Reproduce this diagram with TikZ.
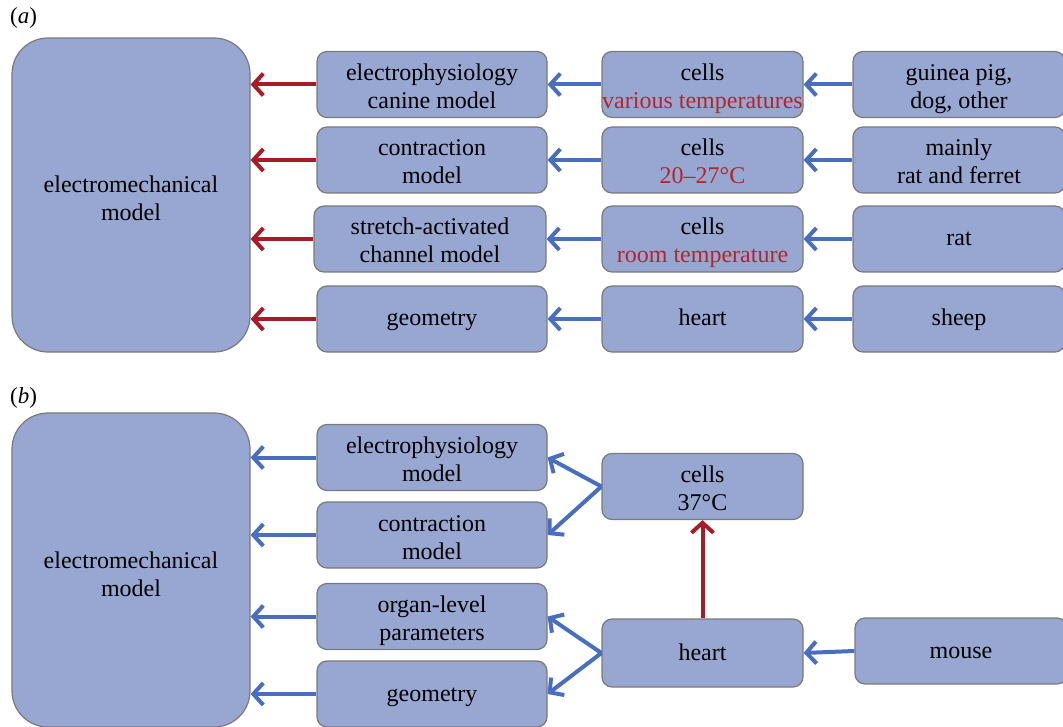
\documentclass[tikz,border=0pt]{standalone}
\usepackage{fontspec}
\setmainfont{Liberation Serif}
\usetikzlibrary{arrows.meta}

\definecolor{boxfill}{HTML}{97A7D1}
\definecolor{boxline}{HTML}{7A7A7A}
\definecolor{arrowblue}{HTML}{4A6EBF}
\definecolor{arrowred}{HTML}{A61C28}
\definecolor{redtext}{HTML}{B3252E}

\tikzset{
    box/.style={draw=boxline, fill=boxfill, line width=1.2pt, rounded corners=10pt,
        align=center, inner sep=0pt, font=\fontsize{24}{28}\selectfont},
    oneline/.style={text height=20pt, text depth=6pt},
    twoline/.style={text height=52pt, text depth=4pt},
    midbox/.style={box, minimum width=230pt, minimum height=66pt},
    cellbox/.style={box, minimum width=201pt, minimum height=66pt},
    srcbox/.style={box, minimum width=212pt, minimum height=66pt},
    bigbox/.style={box, rounded corners=36pt, minimum width=238pt, minimum height=314pt,
        text height=54pt, text depth=2pt},
    panel/.style={anchor=west, inner sep=0pt, font=\fontsize{23}{26}\selectfont},
    bluearrow/.style={draw=arrowblue, line width=4pt, -{Straight Barb[length=10pt,width=22pt]}},
    redarrow/.style={draw=arrowred, line width=4pt, -{Straight Barb[length=10pt,width=22pt]}}
}

\begin{document}
\begin{tikzpicture}[x=1pt,y=-1pt]
        \clip (0,0) rectangle (1063,727);

        % (a)
        \node[panel] (laba) at (10,18) {(\textit{a})};
        \node[bigbox] (ema) at (131,195) {electromechanical\\model};

        \node[midbox,twoline] (epa) at (432,84.5) {electrophysiology\\canine model};
        \node[midbox,twoline] (cona) at (432,160) {contraction\\model};
        \node[midbox,twoline, minimum width=232pt] (saca) at (430,239) {stretch-activated\\channel model};
        \node[midbox,oneline] (geoa) at (432,319) {geometry};

        \node[cellbox,twoline] (cellsa1) at (702.5,84.5) {cells\\\textcolor{redtext}{various temperatures}};
        \node[cellbox,twoline] (cellsa2) at (702.5,160) {cells\\\textcolor{redtext}{20--27°C}};
        \node[cellbox,twoline] (cellsa3) at (702.5,239) {cells\\\textcolor{redtext}{room temperature}};
        \node[cellbox,oneline] (hearta) at (702.5,319) {heart};

        \node[srcbox,twoline] (gpa) at (959,84.5) {guinea pig,\\dog, other};
        \node[srcbox,twoline] (rfa) at (959,160) {mainly\\rat and ferret};
        \node[srcbox,oneline] (rata) at (959,239) {rat};
        \node[srcbox,oneline] (sheepa) at (959,319) {sheep};

        \draw[redarrow] (epa.west) -- (epa.west -| ema.east);
        \draw[redarrow] (cona.west) -- (cona.west -| ema.east);
        \draw[redarrow] (saca.west) -- (saca.west -| ema.east);
        \draw[redarrow] (geoa.west) -- (geoa.west -| ema.east);

        \draw[bluearrow] (cellsa1) -- (epa);
        \draw[bluearrow] (cellsa2) -- (cona);
        \draw[bluearrow] (cellsa3) -- (saca);
        \draw[bluearrow] (hearta) -- (geoa);

        \draw[bluearrow] (gpa) -- (cellsa1);
        \draw[bluearrow] (rfa) -- (cellsa2);
        \draw[bluearrow] (rata) -- (cellsa3);
        \draw[bluearrow] (sheepa) -- (hearta);

        % (b)
        \node[panel] (labb) at (10,398) {(\textit{b})};
        \node[bigbox] (emb) at (131,570) {electromechanical\\model};

        \node[midbox,twoline] (epb) at (432,457.5) {electrophysiology\\model};
        \node[midbox,twoline] (conb) at (432,535) {contraction\\model};
        \node[midbox,twoline] (orgb) at (432,616.5) {organ-level\\parameters};
        \node[midbox,oneline] (geob) at (432,694) {geometry};

        \node[cellbox,twoline] (cellsb) at (702.5,486.5) {cells\\37°C};
        \node[cellbox,oneline, minimum height=68pt] (heartb) at (702.5,653) {heart};
        \node[srcbox,oneline] (mouseb) at (961,651) {mouse};

        \draw[bluearrow] (epb.west) -- (epb.west -| emb.east);
        \draw[bluearrow] (conb.west) -- (conb.west -| emb.east);
        \draw[bluearrow] (orgb.west) -- (orgb.west -| emb.east);
        \draw[bluearrow] (geob.west) -- (geob.west -| emb.east);

        \draw[bluearrow] (cellsb.west) -- (epb.east);
        \draw[bluearrow] (cellsb.west) -- (conb.east);
        \draw[bluearrow] (heartb.west) -- (orgb.east);
        \draw[bluearrow] (heartb.west) -- (geob.east);

        \draw[redarrow] (heartb.north) -- (cellsb.south);
        \draw[bluearrow] (mouseb.west) -- (heartb.east);

\end{tikzpicture}
\end{document}
